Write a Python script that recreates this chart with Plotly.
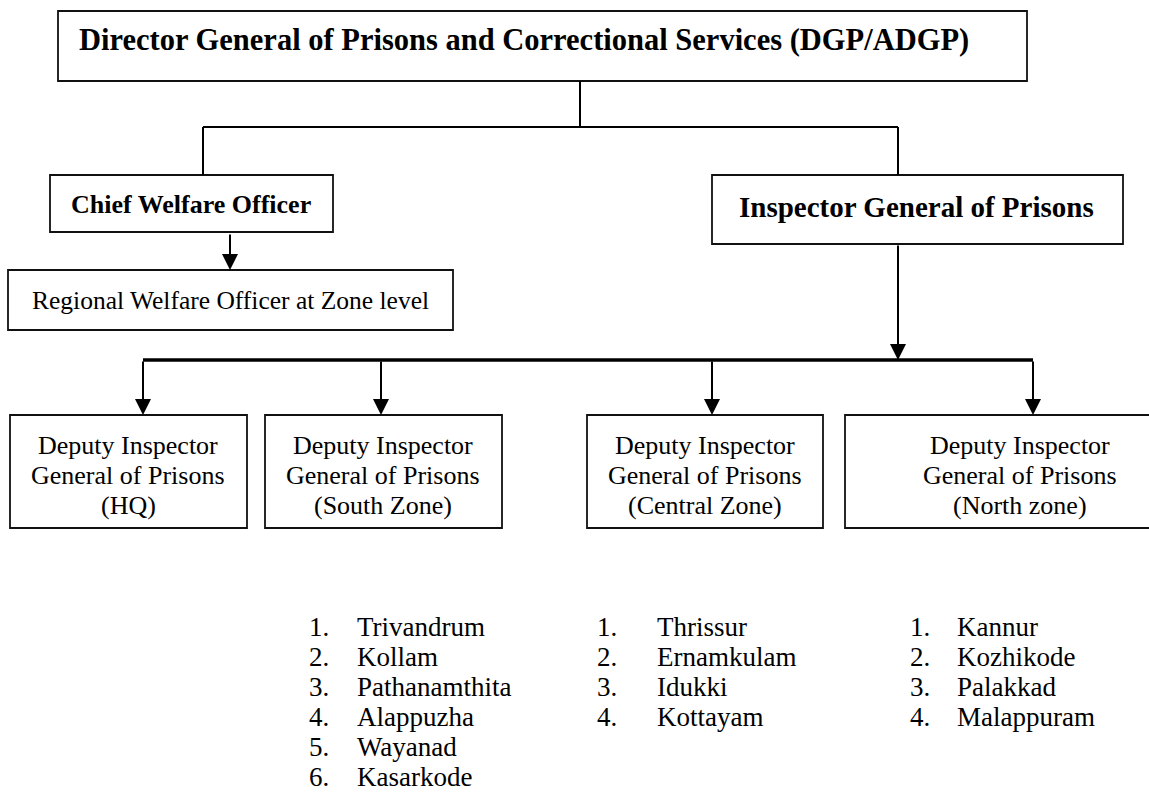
import plotly.graph_objects as go

# ---------------- data ----------------
top_title = "Director General of Prisons and Correctional Services (DGP/ADGP)"
level2_titles = ["Chief Welfare Officer", "Inspector General of Prisons"]
welfare_sub = "Regional Welfare Officer at Zone level"
deputy_line1 = "Deputy Inspector"
deputy_line2 = "General of Prisons"
deputy_units = ["(HQ)", "(South Zone)", "(Central Zone)", "(North zone)"]
south_districts = ["Trivandrum", "Kollam", "Pathanamthita", "Alappuzha", "Wayanad", "Kasarkode"]
central_districts = ["Thrissur", "Ernamkulam", "Idukki", "Kottayam"]
north_districts = ["Kannur", "Kozhikode", "Palakkad", "Malappuram"]

# ---------------- layout (pixel coordinates) ----------------
W, H = 1149, 793
FONT = "Liberation Serif, Times New Roman, serif"
top_box = (58, 11, 1027, 81)
chief_box = (50, 175, 333, 232)
ig_box = (712, 175, 1123, 244)
regional_box = (8, 270, 453, 330)
deputy_boxes = [(10, 415, 247, 528), (265, 415, 502, 528),
                (587, 415, 823, 528), (845, 415, 1200, 528)]
deputy_cx = [128, 383, 705, 1020]
deputy_arrow_x = [143, 381, 712, 1033]
deputy_line_y = [445, 475, 505]
bus_y = 360
list_cols = [(307, 355), (595, 655), (908, 955)]
list_y0, list_dy = 627, 30

fig = go.Figure()
shapes = []
ann = []


def box(b, w=1.8):
    shapes.append(dict(type="rect", x0=b[0], y0=b[1], x1=b[2], y1=b[3],
                       line=dict(color="#111", width=w), fillcolor="rgba(0,0,0,0)"))


def line(x0, y0, x1, y1, w=2):
    shapes.append(dict(type="line", x0=x0, y0=y0, x1=x1, y1=y1,
                       line=dict(color="black", width=w)))


def arrow(x, y_from, y_to, w=2):
    ann.append(dict(x=x, y=y_to, ax=x, ay=y_from, xref="x", yref="y",
                    axref="x", ayref="y", showarrow=True, arrowhead=2,
                    arrowsize=1.6, arrowwidth=w, arrowcolor="black", text="",
                    standoff=0, startstandoff=0))


def text(x, y, s, size, bold=False, xanchor="center"):
    if bold:
        s = "<b>" + s + "</b>"
    ann.append(dict(x=x, y=y, xref="x", yref="y", text=s, showarrow=False,
                    xanchor=xanchor, yanchor="middle", align="center",
                    font=dict(family=FONT, size=size, color="black")))


# boxes
for b in [top_box, chief_box, ig_box, regional_box] + deputy_boxes:
    box(b)

# connectors
line(580, top_box[3], 580, 127)
line(203, 127, 898, 127)
line(203, 127, 203, chief_box[1])
line(898, 127, 898, ig_box[1])
arrow(230, chief_box[3] + 1, regional_box[1])
arrow(898, ig_box[3], bus_y)
line(deputy_arrow_x[0], bus_y, deputy_arrow_x[-1], bus_y, w=3.5)
for x in deputy_arrow_x:
    arrow(x, bus_y, deputy_boxes[0][1])

# texts
text(77, 40, top_title, 30.5, bold=True, xanchor="left")
text(191, 204, level2_titles[0], 26, bold=True)
text(916, 207, level2_titles[1], 29, bold=True)
text(230, 300, welfare_sub, 25.5)
for cx, unit in zip(deputy_cx, deputy_units):
    for y, s in zip(deputy_line_y, [deputy_line1, deputy_line2, unit]):
        text(cx, y, s, 26)

for (nx, tx), items in zip(list_cols, [south_districts, central_districts, north_districts]):
    for i, name in enumerate(items):
        y = list_y0 + i * list_dy
        text(nx, y, f"{i + 1}.", 27, xanchor="left")
        text(tx, y, name, 27, xanchor="left")

fig.update_layout(
    width=W, height=H, margin=dict(l=0, r=0, t=0, b=0),
    paper_bgcolor="white", plot_bgcolor="white",
    xaxis=dict(range=[0, W], visible=False, fixedrange=True),
    yaxis=dict(range=[H, 0], visible=False, fixedrange=True),
    shapes=shapes, annotations=ann, showlegend=False,
)
fig.write_html("out.html", config={"displayModeBar": False},
               post_script="document.body.style.margin='0';document.body.style.overflow='hidden';")
